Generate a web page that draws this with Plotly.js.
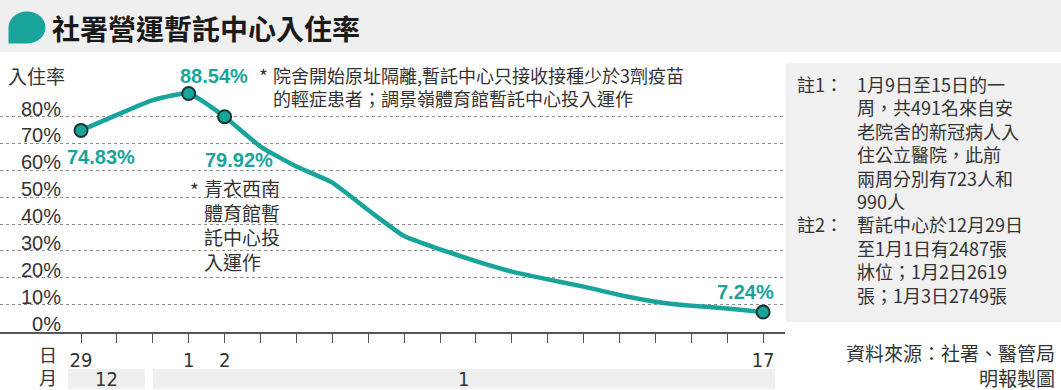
<!DOCTYPE html>
<html>
<head>
<meta charset="utf-8">
<script src="https://cdn.plot.ly/plotly-3.0.1.min.js"></script>
<style>html,body{margin:0;padding:0;background:#fff;}#chart{width:1061px;height:390px;}</style>
</head>
<body>
<div id="chart"></div>
<script>
// ---- data ----
const dayLabels = ['29','30','31','1','2','3','4','5','6','7','8','9','10','11','12','13','14','15','16','17'];
const monthOfDay = ['12','12','12','1','1','1','1','1','1','1','1','1','1','1','1','1','1','1','1','1'];
const occupancy = [74.83, 80.6, 86.1, 88.54, 79.92, 68.8, 61.4, 55.4, 45.2, 35.5, 30.6, 26.2, 22.3, 19.4, 16.7, 13.6, 11.1, 9.6, 8.6, 7.24];
const labeledDays = [0, 3, 4, 19];           // indices of days with a tick label and marker
const yTickVals = [0,10,20,30,40,50,60,70,80];
const yTickText = ['0%','10%','20%','30%','40%','50%','60%','70%','80%'];
const titleText = '社署營運暫託中心入住率';
const note1 = ['1月9日至15日的一','周，共491名來自安','老院舍的新冠病人入','住公立醫院，此前','兩周分別有723人和','990人'];
const note2 = ['暫託中心於12月29日','至1月1日有2487張','牀位；1月2日2619','張；1月3日2749張'];
const noteA = ['院舍開始原址隔離,暫託中心只接收接種少於3劑疫苗','的輕症患者；調景嶺體育館暫託中心投入運作'];
const noteB = ['青衣西南','體育館暫','託中心投','入運作'];

// ---- layout helpers ----
const W = 1061, H = 390;
const px = x => x / W;
const py = y => 1 - y / H;
const TEAL = '#19a49b';
const DARK = '#333333';
const CJK = '"Noto Sans CJK TC", "Noto Sans CJK SC", sans-serif';
const NUM = '"Liberation Sans", Arial, sans-serif';
const NARROW = '"Liberation Sans Narrow", "DejaVu Sans Condensed", "Liberation Sans", sans-serif';

const idx = dayLabels.map((d, i) => i);
const x0px = 81, stepPx = 35.9;
const xRange = [(0 - x0px) / stepPx, (785 - x0px) / stepPx];
const zeroPx = 331.5, perPct = 2.6875;
const yRange = [-(332 - zeroPx) / perPct, (zeroPx - 62) / perPct];

const lineTrace = {
  x: idx, y: occupancy, type: 'scatter', mode: 'lines',
  line: {color: TEAL, width: 4.5, shape: 'spline', smoothing: 0.5}, hoverinfo: 'skip'
};
const markTrace = {
  x: labeledDays, y: labeledDays.map(i => occupancy[i]), type: 'scatter', mode: 'markers',
  marker: {size: 13, color: TEAL, line: {color: '#1b3533', width: 2}}, hoverinfo: 'skip'
};

// icon (speech bubble) path in pixel space -> paper
function iconPath() {
  const cx = 27, cy = 27.5, rx = 18.5, ry = 16, k = 0.5523;
  const P = (x, y) => px(x).toFixed(5) + ',' + py(y).toFixed(5);
  return 'M' + P(cx - rx, cy) +
    ' C' + P(cx - rx, cy - k * ry) + ' ' + P(cx - k * rx, cy - ry) + ' ' + P(cx, cy - ry) +
    ' C' + P(cx + k * rx, cy - ry) + ' ' + P(cx + rx, cy - k * ry) + ' ' + P(cx + rx, cy) +
    ' C' + P(cx + rx, cy + k * ry) + ' ' + P(cx + k * rx, cy + ry) + ' ' + P(cx, cy + ry) +
    ' L' + P(cx - rx, cy + ry) + ' Z';
}

const shapes = [
  {type: 'rect', xref: 'paper', yref: 'paper', x0: 0, x1: 1, y0: py(52), y1: 1, fillcolor: '#efefef', line: {width: 0}, layer: 'below'},
  {type: 'path', xref: 'paper', yref: 'paper', path: iconPath(), fillcolor: TEAL, line: {width: 0}},
  {type: 'rect', xref: 'paper', yref: 'paper', x0: px(786), x1: 1, y0: py(322), y1: py(63), fillcolor: '#f0f0f0', line: {width: 0}, layer: 'below'},
  {type: 'rect', xref: 'x', yref: 'paper', x0: -0.36, x1: 1.78, y0: py(389), y1: py(369), fillcolor: '#efefef', line: {width: 0}, layer: 'below'},
  {type: 'rect', xref: 'x', yref: 'paper', x0: 2.0, x1: 19.33, y0: py(389), y1: py(369), fillcolor: '#efefef', line: {width: 0}, layer: 'below'},
  {type: 'rect', xref: 'paper', yref: 'paper', x0: px(187), x1: px(289), y0: py(274), y1: py(176), fillcolor: '#ffffff', line: {width: 0}, layer: 'between'}
];

const ann = [];
function txt(text, x, y, size, opts) {
  ann.push(Object.assign({
    text: text, xref: 'paper', yref: 'paper', x: px(x), y: py(y), xanchor: 'left', yanchor: 'middle',
    align: 'left', showarrow: false, font: {family: CJK, size: size, color: DARK}
  }, opts || {}));
}
// title
txt('<b>' + titleText + '</b>', 50, 28, 28, {font: {family: CJK, size: 28, color: '#1a1a1a'}});
// y axis title
txt('入住率', 6, 75, 19);
// notes box (one block, 10 lines)
const noteHeads = ['註1：'].concat(note1.slice(1).map(() => '')).concat(['註2：']).concat(note2.slice(1).map(() => ''));
txt(noteHeads.map(t => t || ' ').join('<br>'), 795, 68.5, 18, {yanchor: 'top'});
txt(note1.concat(note2).join('<br>'), 855, 68.5, 18, {yanchor: 'top'});
// chart notes
txt('*', 257, 76, 19);
txt(noteA.join('<br>'), 271, 86, 18);
txt('*', 188, 189, 19);
txt(noteB.join('<br>'), 202, 225, 19);
// day/month row labels
txt('日<br>月', 37, 365, 18);
// month labels
ann.push({text: '12', xref: 'x', yref: 'paper', x: (-0.36 + 1.78) / 2, y: py(379), xanchor: 'center', yanchor: 'middle', showarrow: false, font: {family: NARROW, size: 20, color: DARK}});
ann.push({text: '1', xref: 'x', yref: 'paper', x: (2.0 + 19.33) / 2, y: py(379), xanchor: 'center', yanchor: 'middle', showarrow: false, font: {family: NARROW, size: 20, color: DARK}});
// source
txt('資料來源：社署、醫管局<br>明報製圖', 1057, 364.5, 19, {xanchor: 'right', align: 'right'});
// value labels
const labelShift = {0: [20, -27], 3: [25, 18], 4: [14, -43], 19: [-18, 20]};
labeledDays.forEach(i => {
  ann.push({text: '<b>' + occupancy[i].toFixed(2) + '%</b>', xref: 'x', yref: 'y', x: i, y: occupancy[i],
    xshift: labelShift[i][0], yshift: labelShift[i][1], showarrow: false, xanchor: 'center', yanchor: 'middle',
    font: {family: NUM, size: 20, color: TEAL}});
});

const layout = {
  width: W, height: H, margin: {l: 0, r: 0, t: 0, b: 0},
  paper_bgcolor: '#ffffff', plot_bgcolor: 'rgba(0,0,0,0)', showlegend: false,
  xaxis: {
    domain: [0, 785 / W], range: xRange, fixedrange: true,
    tickmode: 'array', tickvals: labeledDays, ticktext: labeledDays.map(i => dayLabels[i]),
    ticks: 'outside', ticklen: 9, tickwidth: 1, tickcolor: '#555',
    showline: true, linecolor: '#555', linewidth: 1.5, showgrid: false, zeroline: false,
    tickfont: {family: NARROW, size: 20, color: DARK},
    minor: {tickmode: 'array', tickvals: idx, ticks: 'outside', ticklen: 9, tickwidth: 1, tickcolor: '#555', showgrid: false}
  },
  yaxis: {
    domain: [py(332), py(62)], range: yRange, fixedrange: true,
    anchor: 'free', position: 61 / W,
    tickmode: 'array', tickvals: yTickVals, ticktext: yTickText, ticks: '',
    showgrid: true, gridcolor: '#8c8c8c', griddash: 'dot', gridwidth: 1,
    zeroline: false, showline: false, ticklabelshift: -8,
    tickfont: {family: NUM, size: 20, color: DARK}
  },
  shapes: shapes, annotations: ann
};

Plotly.newPlot('chart', [lineTrace, markTrace], layout, {displayModeBar: false, staticPlot: true});
</script>
</body>
</html>
